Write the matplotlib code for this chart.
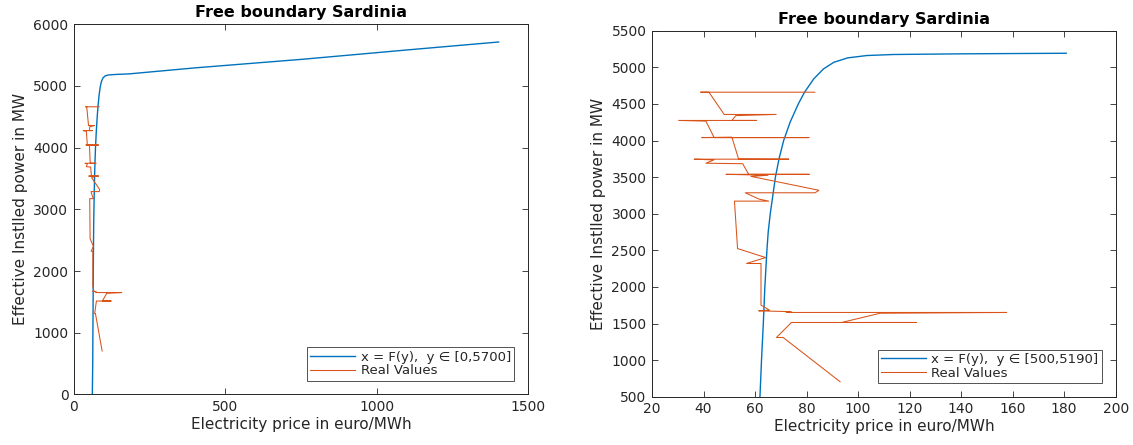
import numpy as np
from matplotlib import pyplot as plt

plt.rcParams["font.family"] = "DejaVu Sans"

# fitted boundary x = F(y): price (euro/MWh) vs power (MW)
fit_price = [60.6, 61.9, 62.5, 63.2, 63.8, 64.6, 65.1, 65.9, 67.9, 69.3, 71.1, 73.6,
             76.8, 79.2, 82.8, 86.6, 90.6, 96.0, 103.4, 113.8, 139.8, 180.8,
             400, 757, 1100, 1403]
fit_power = [0, 500, 1000, 1500, 2000, 2500, 2750, 3000, 3500, 3750, 4000, 4250,
             4500, 4660, 4843, 4979, 5069, 5129, 5161, 5175, 5184, 5192,
             5290, 5430, 5580, 5709]

# real observed values, in the order they are joined
real_price = [93.0, 70.9, 68.3, 74.1, 122.6, 93.6, 108.5, 157.7, 72.1, 74.0, 61.4, 65.6,
              62.3, 62.3, 56.7, 64.1, 53.2, 52.0, 65.3, 61.5, 56.2, 83.3, 84.8, 58.4,
              65.0, 48.7, 81.0, 57.5, 55.2, 40.9, 44.0, 36.4, 73.1, 53.6, 51.0, 39.3,
              80.9, 44.1, 40.9, 30.4, 60.6, 51.0, 52.5, 68.2, 48.0, 42.1, 38.9, 83.2]
real_power = [705, 1309, 1309, 1514, 1514, 1514, 1640, 1651, 1651, 1662, 1673, 1683,
              1751, 2320, 2320, 2401, 2524, 3172, 3172, 3200, 3286, 3286, 3320, 3510,
              3525, 3538, 3538, 3538, 3683, 3690, 3735, 3745, 3745, 3748, 4046, 4040,
              4040, 4040, 4265, 4274, 4274, 4274, 4340, 4356, 4356, 4660, 4660, 4660]

blue = "#0072BD"
orange = "#D95319"
grey = "#262626"

fit_price = np.array(fit_price)
fit_power = np.array(fit_power)

fig = plt.figure(figsize=(11.33, 4.45), dpi=100)
ax1 = fig.add_axes([0.0653, 0.1135, 0.4007, 0.8325])
ax2 = fig.add_axes([0.5755, 0.1085, 0.4092, 0.8225])


def style(ax):
    ax.tick_params(direction="in", top=True, right=True, length=4, width=0.6,
                   labelsize=10, colors=grey, pad=4)
    for s in ax.spines.values():
        s.set_linewidth(0.7)
        s.set_color(grey)
    ax.set_title("Free boundary Sardinia", fontsize=11.5, fontweight="bold", pad=5)
    ax.set_xlabel("Electricity price in euro/MWh", fontsize=11, color=grey, labelpad=2)
    ax.set_ylabel("Effective Instlled power in MW", fontsize=11, color=grey, labelpad=4)


# left: full range
ax1.plot(fit_price, fit_power, color=blue, lw=1.0, label="x = F(y),  y \u2208 [0,5700]")
ax1.plot(real_price, real_power, color=orange, lw=0.75, label="Real Values")
ax1.set_xlim(0, 1500)
ax1.set_ylim(0, 6000)
ax1.set_xticks([0, 500, 1000, 1500])
style(ax1)

# right: zoomed range
m = (fit_power >= 500) & (fit_power <= 5192)
ax2.plot(fit_price[m], fit_power[m], color=blue, lw=1.0, label="x = F(y),  y \u2208 [500,5190]")
ax2.plot(real_price, real_power, color=orange, lw=0.75, label="Real Values")
ax2.set_xlim(20, 200)
ax2.set_ylim(500, 5500)
ax2.set_xticks(np.arange(20, 201, 20))
ax2.set_yticks(np.arange(500, 5501, 500))
style(ax2)

for ax in (ax1, ax2):
    leg = ax.legend(loc="lower right", fontsize=9.5, handlelength=3.4, fancybox=False,
                    borderaxespad=1.05, borderpad=0.25, labelspacing=0.05, handletextpad=0.4)
    leg.get_frame().set_edgecolor(grey)
    leg.get_frame().set_linewidth(0.7)
    for t in leg.get_texts():
        t.set_color(grey)

fig.savefig("out.png", dpi=100)
